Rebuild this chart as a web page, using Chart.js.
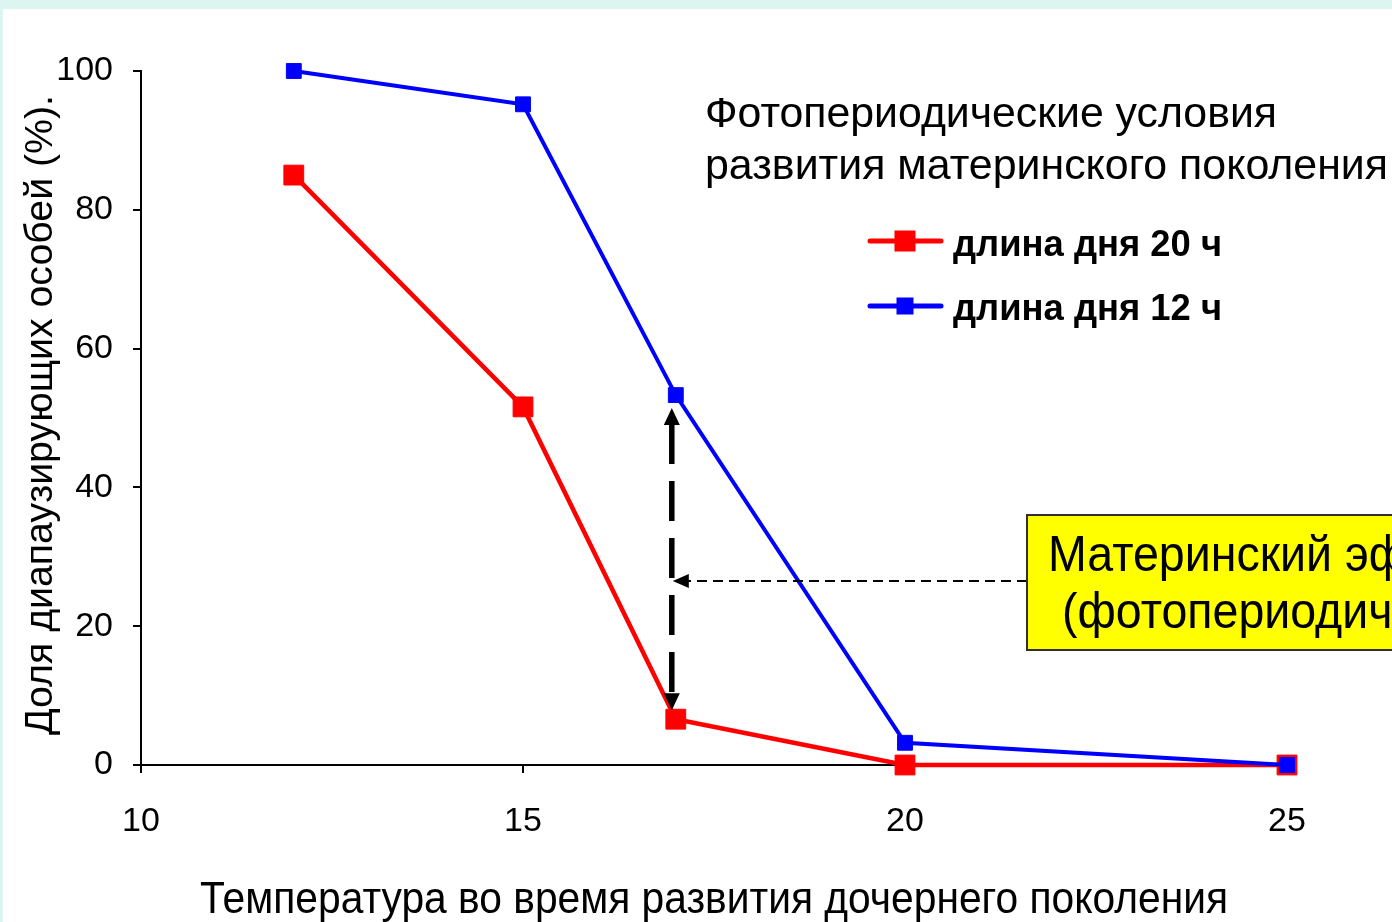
<!DOCTYPE html>
<html>
<head>
<meta charset="utf-8">
<script src="https://cdn.jsdelivr.net/npm/chart.js@4/dist/chart.umd.min.js"></script>
<style>
  html, body { margin: 0; padding: 0; background: #ffffff; overflow: hidden; }
  #c { display: block; }
</style>
</head>
<body>
<canvas id="c" width="1392" height="922"></canvas>
<script>
// Temperature of the daughter generation (°C) and share of diapausing individuals (%)
const temperatures = [12, 15, 17, 20, 25];
const day20h = [85, 51.6, 6.6, 0, 0];
const day12h = [100, 95.2, 53.3, 3.2, 0];
const xTicks = [10, 15, 20, 25];
const yTicks = [0, 20, 40, 60, 80, 100];
const seriesLabels = ['длина дня 20 ч', 'длина дня 12 ч'];
const seriesColors = ['#ff0000', '#0000ff'];
const xTitle = 'Температура во время развития дочернего поколения';
const yTitle = 'Доля диапаузирующих особей (%).';
const legendTitle = ['Фотопериодические условия', 'развития материнского поколения'];
const calloutLines = ['Материнский эффект', '(фотопериодический)'];
const effectTemperature = 17;   // where the gap between the two series is marked
const calloutLevel = 26.5;      // height (in %) of the pointer from the callout box

const SANS = '"Liberation Sans", Arial, sans-serif';

function fontAvailable(name) {
  const c = document.createElement('canvas').getContext('2d');
  c.font = '40px monospace';
  const base = c.measureText('abcdefg 100 Температура').width;
  c.font = '40px "' + name + '", monospace';
  return c.measureText('abcdefg 100 Температура').width !== base;
}
const narrow = fontAvailable('Liberation Sans Narrow');
const tickFont = narrow
  ? { family: '"Liberation Sans Narrow", "Liberation Sans", Arial, sans-serif', size: 36 }
  : { family: SANS, size: 34 };

// Draw text squeezed horizontally so that it spans the given width
function drawFitted(ctx, text, x, y, width, font) {
  ctx.save();
  ctx.font = font;
  const w = ctx.measureText(text).width;
  ctx.translate(x, y);
  ctx.scale(width / w, 1);
  ctx.textAlign = 'left';
  ctx.textBaseline = 'alphabetic';
  ctx.fillText(text, 0, 0);
  ctx.restore();
  return width / w;
}
function drawScaled(ctx, text, x, y, sx, font) {
  ctx.save();
  ctx.font = font;
  ctx.translate(x, y);
  ctx.scale(sx, 1);
  ctx.textAlign = 'left';
  ctx.textBaseline = 'alphabetic';
  ctx.fillText(text, 0, 0);
  ctx.restore();
}

function arrowHead(ctx, tipX, tipY, dirX, dirY, len, half) {
  const bx = tipX - dirX * len, by = tipY - dirY * len;
  const px = -dirY, py = dirX;
  ctx.beginPath();
  ctx.moveTo(tipX, tipY);
  ctx.lineTo(bx + px * half, by + py * half);
  ctx.lineTo(bx - px * half, by - py * half);
  ctx.closePath();
  ctx.fill();
}

const pagePlugin = {
  id: 'page',
  beforeDraw(chart) {
    const ctx = chart.ctx;
    ctx.save();
    ctx.fillStyle = '#ddf5f1';
    ctx.fillRect(0, 0, chart.width, chart.height);
    ctx.fillStyle = '#ffffff';
    ctx.fillRect(3, 9, chart.width - 3, chart.height - 9);
    ctx.restore();
  },
  afterDraw(chart) {
    const ctx = chart.ctx;
    const xs = chart.scales.x, ys = chart.scales.y;
    ctx.save();
    ctx.fillStyle = '#000000';

    // axis titles
    drawFitted(ctx, xTitle, 200, 913, 1028, '44px ' + SANS);
    ctx.save();
    ctx.translate(52, 735);
    ctx.rotate(-Math.PI / 2);
    drawFitted(ctx, yTitle, 0, 0, 640, '38px ' + SANS);
    ctx.restore();

    // legend heading
    drawFitted(ctx, legendTitle[0], 705, 127, 572, '42px ' + SANS);
    drawFitted(ctx, legendTitle[1], 705, 179, 683, '42px ' + SANS);

    // legend entries
    const rows = [
      { y: 241, base: 256, size: 21, color: seriesColors[0], label: seriesLabels[0] },
      { y: 306, base: 320, size: 17, color: seriesColors[1], label: seriesLabels[1] }
    ];
    rows.forEach(r => {
      ctx.strokeStyle = r.color;
      ctx.lineWidth = 5;
      ctx.lineCap = 'round';
      ctx.beginPath();
      ctx.moveTo(870, r.y);
      ctx.lineTo(941, r.y);
      ctx.stroke();
      ctx.fillStyle = r.color;
      ctx.fillRect(905 - r.size / 2, r.y - r.size / 2, r.size, r.size);
      ctx.fillStyle = '#000000';
      drawFitted(ctx, r.label, 953, r.base, 269, 'bold 36px ' + SANS);
    });

    // double arrow between the two series at the marked temperature
    const ax = xs.getPixelForValue(effectTemperature) - 4;
    const topTip = ys.getPixelForValue(day12h[temperatures.indexOf(effectTemperature)]) + 13;
    const botTip = ys.getPixelForValue(day20h[temperatures.indexOf(effectTemperature)]) - 9;
    ctx.fillStyle = '#000000';
    ctx.strokeStyle = '#000000';
    arrowHead(ctx, ax, topTip, 0, -1, 17, 8);
    arrowHead(ctx, ax, botTip, 0, 1, 17, 8);
    ctx.lineWidth = 5.5;
    ctx.lineCap = 'butt';
    ctx.setLineDash([40, 17]);
    ctx.beginPath();
    ctx.moveTo(ax, topTip + 16);
    ctx.lineTo(ax, botTip - 16);
    ctx.stroke();

    // callout box with its pointer
    const boxLeft = 1027, boxTop = 515, boxBottom = 650;
    const py = ys.getPixelForValue(calloutLevel);
    ctx.lineWidth = 2;
    ctx.setLineDash([10, 6]);
    ctx.beginPath();
    ctx.moveTo(boxLeft, py);
    ctx.lineTo(ax + 14, py);
    ctx.stroke();
    ctx.setLineDash([]);
    arrowHead(ctx, ax + 1, py, -1, 0, 16, 7);

    ctx.fillStyle = '#ffff00';
    ctx.fillRect(boxLeft, boxTop, chart.width - boxLeft + 10, boxBottom - boxTop);
    ctx.strokeStyle = '#303030';
    ctx.lineWidth = 2;
    ctx.strokeRect(boxLeft, boxTop, chart.width - boxLeft + 10, boxBottom - boxTop);
    ctx.fillStyle = '#000000';
    const calloutFont = '50px ' + SANS;
    ctx.font = calloutFont;
    const sx = 284 / ctx.measureText('Материнский').width;
    drawScaled(ctx, calloutLines[0], 1048, 571, sx, calloutFont);
    drawScaled(ctx, calloutLines[1], 1062, 628, sx, calloutFont);
    ctx.restore();
  }
};

const points = (ys) => temperatures.map((t, i) => ({ x: t, y: ys[i] }));

new Chart(document.getElementById('c'), {
  type: 'line',
  data: {
    datasets: [
      {
        label: seriesLabels[0],
        data: points(day20h),
        borderColor: seriesColors[0],
        backgroundColor: seriesColors[0],
        borderWidth: 4.5,
        pointStyle: 'rect',
        pointRadius: 14,
        pointBorderWidth: 1,
        pointHoverRadius: 14,
        tension: 0,
        clip: false,
        order: 2
      },
      {
        label: seriesLabels[1],
        data: points(day12h),
        borderColor: seriesColors[1],
        backgroundColor: seriesColors[1],
        borderWidth: 4,
        pointStyle: 'rect',
        pointRadius: 10.5,
        pointBorderWidth: 1,
        pointHoverRadius: 10.5,
        tension: 0,
        clip: false,
        order: 1
      }
    ]
  },
  options: {
    responsive: false,
    animation: false,
    devicePixelRatio: 1,
    events: [],
    layout: { padding: { top: 71, right: 105, left: 0, bottom: 0 } },
    plugins: { legend: { display: false }, tooltip: { enabled: false }, title: { display: false } },
    scales: {
      x: {
        type: 'linear',
        min: xTicks[0],
        max: xTicks[xTicks.length - 1],
        afterBuildTicks: s => { s.ticks = xTicks.map(v => ({ value: v })); },
        afterFit: s => { s.height = 922 - 765; },
        ticks: { color: '#000000', font: tickFont, padding: 28, maxRotation: 0 },
        grid: { display: true, drawOnChartArea: false, drawTicks: true, tickLength: 8, color: '#000000', lineWidth: 2 },
        border: { display: true, color: '#000000', width: 2 }
      },
      y: {
        type: 'linear',
        min: yTicks[0],
        max: yTicks[yTicks.length - 1],
        afterBuildTicks: s => { s.ticks = yTicks.map(v => ({ value: v })); },
        afterFit: s => { s.width = 141; },
        ticks: { color: '#000000', font: tickFont, padding: 20 },
        grid: { display: true, drawOnChartArea: false, drawTicks: true, tickLength: 8, color: '#000000', lineWidth: 2 },
        border: { display: true, color: '#000000', width: 2 }
      }
    }
  },
  plugins: [pagePlugin]
});
</script>
</body>
</html>
